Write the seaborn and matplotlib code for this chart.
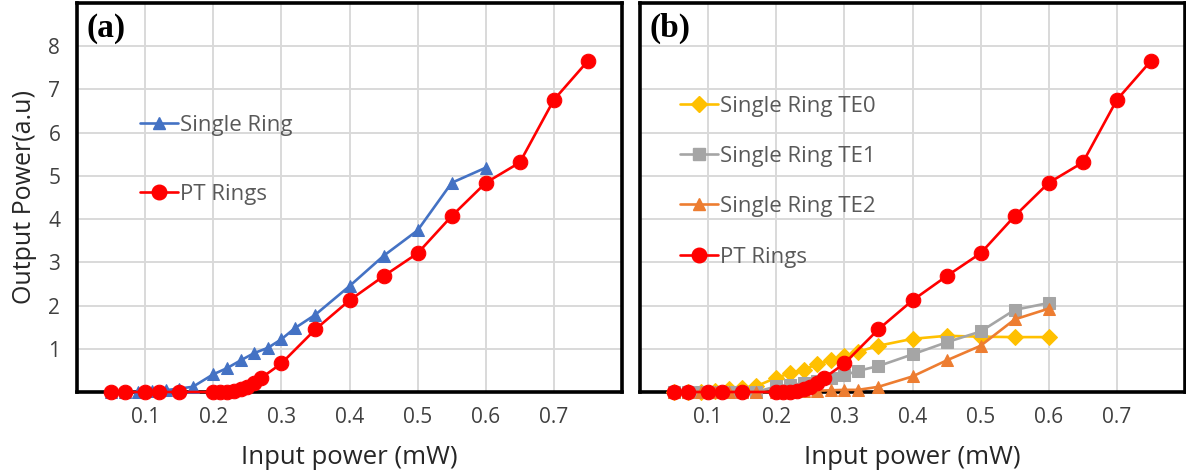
import numpy as np
import pandas as pd
import seaborn as sns
import matplotlib
matplotlib.use("Agg")
import matplotlib.pyplot as plt
from matplotlib.lines import Line2D

# ---------------- data ----------------
single_x = [0.05, 0.07, 0.09, 0.11, 0.13, 0.15, 0.17, 0.20, 0.22, 0.24, 0.26, 0.28,
            0.30, 0.32, 0.35, 0.40, 0.45, 0.50, 0.55, 0.60]
single_ring = [0, 0, 0, 0.02, 0.04, 0.08, 0.12, 0.41, 0.55, 0.73, 0.90, 1.02,
               1.22, 1.48, 1.79, 2.45, 3.15, 3.74, 4.84, 5.19]
te0 = [0, 0, 0, 0.03, 0.06, 0.10, 0.13, 0.33, 0.43, 0.52, 0.64, 0.73,
       0.84, 0.93, 1.07, 1.23, 1.30, 1.28, 1.27, 1.27]
te1 = [0, 0, 0, 0, 0, 0, 0, 0.13, 0.16, 0.20, 0.26, 0.32,
       0.39, 0.49, 0.60, 0.87, 1.15, 1.40, 1.90, 2.06]
te2 = [0, 0, 0, 0, 0, 0, 0, 0, 0, 0.02, 0.03, 0.04,
       0.05, 0.05, 0.12, 0.36, 0.73, 1.07, 1.68, 1.93]

pt_x = [0.05, 0.07, 0.10, 0.12, 0.15, 0.20, 0.21, 0.22, 0.23, 0.24, 0.25, 0.26,
        0.27, 0.30, 0.35, 0.40, 0.45, 0.50, 0.55, 0.60, 0.65, 0.70, 0.75]
pt_rings = [0, 0, 0, 0, 0, 0, 0, 0, 0.02, 0.07, 0.12, 0.20,
            0.32, 0.66, 1.45, 2.12, 2.68, 3.21, 4.07, 4.84, 5.31, 6.76, 7.66]

x_ticks = [0.1, 0.2, 0.3, 0.4, 0.5, 0.6, 0.7]
y_ticks = [1, 2, 3, 4, 5, 6, 7, 8]

# ---------------- style ----------------
sns.set_theme(style="white")
plt.rcParams['font.family'] = ['Open Sans', 'DejaVu Sans']

TXT = "#404040"
LEG = "#595959"
C_BLUE = "#4472C4"
C_RED = "#FF0000"
C_YEL = "#FFC000"
C_GRAY = "#A5A5A5"
C_ORG = "#ED7D31"

fig = plt.figure(figsize=(11.86, 4.72), dpi=100)
ax_a = fig.add_axes([77 / 1186, 80 / 472, 545 / 1186, 389 / 472])
ax_b = fig.add_axes([640 / 1186, 80 / 472, 545 / 1186, 389 / 472])


def draw(ax, x, y, color, marker, ms, label):
    df = pd.DataFrame({"x": x, "y": y})
    sns.lineplot(data=df, x="x", y="y", ax=ax, color=color, marker=marker,
                 markersize=ms, markeredgecolor=color, markerfacecolor=color,
                 linewidth=1.9, sort=False, label=label, legend=False,
                 clip_on=False, zorder=3)


draw(ax_a, single_x, single_ring, C_BLUE, "^", 9, "Single Ring")
draw(ax_a, pt_x, pt_rings, C_RED, "o", 10.5, "PT Rings")

draw(ax_b, single_x, te0, C_YEL, "D", 8, "Single Ring TE0")
draw(ax_b, single_x, te1, C_GRAY, "s", 9, "Single Ring TE1")
draw(ax_b, single_x, te2, C_ORG, "^", 9, "Single Ring TE2")
draw(ax_b, pt_x, pt_rings, C_RED, "o", 10.5, "PT Rings")

all_x = [round(v, 1) for v in np.arange(0, 0.81, 0.1)]
for ax in (ax_a, ax_b):
    ax.set_xlim(0, 0.8)
    ax.set_ylim(0, 9)
    ax.set_yticks(np.arange(0, 9.1, 1))
    ax.grid(True, color="#d9d9d9", linewidth=1.4, zorder=0)
    ax.set_axisbelow(True)
    for sp in ax.spines.values():
        sp.set_visible(True)
        sp.set_color("black")
        sp.set_linewidth(2.6)
    ax.tick_params(axis="both", length=0, labelsize=15, labelcolor=TXT)
    ax.tick_params(axis="x", pad=11)
    ax.tick_params(axis="y", pad=12)
    ax.set_xticks(all_x)
    ax.set_xticklabels(["" if t not in x_ticks else f"{t:.1f}" for t in all_x])
    ax.set_xlabel("Input power (mW)", fontsize=18.5, color="#262626", labelpad=12)

ax_a.set_yticklabels(["" if v not in y_ticks else str(v) for v in range(0, 10)])
ax_a.set_ylabel("Output Power(a.u)", fontsize=18, color="#262626", labelpad=8)
ax_b.set_yticklabels([])
ax_b.set_ylabel("")

for ax, lab in ((ax_a, "(a)"), (ax_b, "(b)")):
    ax.text(0.018, 0.975, lab, transform=ax.transAxes, ha="left", va="top",
            fontsize=24, fontweight="bold", family="Liberation Serif", color="black")


def handle(color, marker, ms):
    return Line2D([], [], color=color, marker=marker, markersize=ms,
                  markeredgecolor=color, linewidth=1.9)


leg_a = ax_a.legend([handle(C_BLUE, "^", 9), handle(C_RED, "o", 10.5)],
                    ["Single Ring", "PT Rings"],
                    loc="upper left", bbox_to_anchor=(0.1, 0.735), frameon=False,
                    fontsize=16, labelspacing=2.15, handlelength=1.7,
                    handletextpad=0.1, borderaxespad=0)
for t in leg_a.get_texts():
    t.set_color(LEG)

leg_b = ax_b.legend([handle(C_YEL, "D", 8), handle(C_GRAY, "s", 9),
                     handle(C_ORG, "^", 9), handle(C_RED, "o", 10.5)],
                    ["Single Ring TE0", "Single Ring TE1", "Single Ring TE2", "PT Rings"],
                    loc="upper left", bbox_to_anchor=(0.058, 0.785), frameon=False,
                    fontsize=16, labelspacing=1.32, handlelength=1.7,
                    handletextpad=0.1, borderaxespad=0)
for t in leg_b.get_texts():
    t.set_color(LEG)

fig.savefig("out.png", dpi=100)
